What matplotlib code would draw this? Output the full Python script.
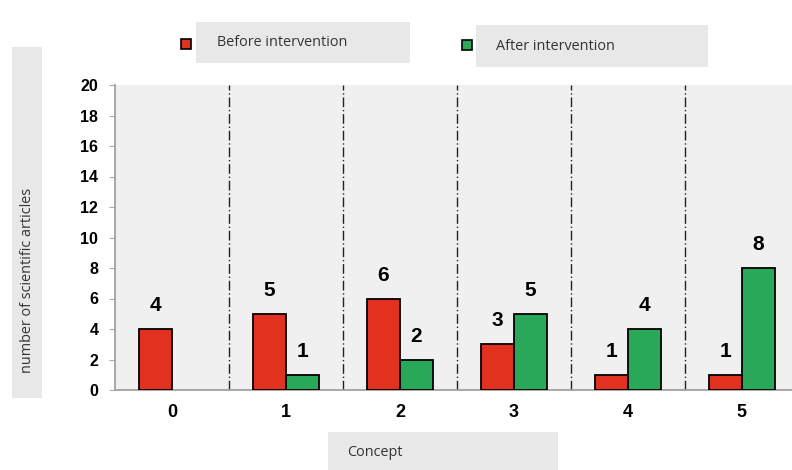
import matplotlib.pyplot as plt
from matplotlib.patches import Rectangle
import numpy as np

# ---------- DATA ----------
concepts = ["0", "1", "2", "3", "4", "5"]
before_counts = [4, 5, 6, 3, 1, 1]
after_counts = [0, 1, 2, 5, 4, 8]
y_ticks = list(range(0, 21, 2))

RED = "#e2321f"
GREEN = "#2aa85a"
PANEL = "#f0f0f0"
BOX = "#e8e8e8"
LABEL_FONT = ["Open Sans", "DejaVu Sans"]
NUM_FONT = ["Liberation Sans", "DejaVu Sans"]

fig = plt.figure(figsize=(7.92, 4.70), dpi=100)
W, H = 792, 470


def px_axes(x0, y0, x1, y1):
    # pixel box (top-left origin) -> figure fraction rect
    return [x0 / W, 1 - y1 / H, (x1 - x0) / W, (y1 - y0) / H]


ax = fig.add_axes(px_axes(115, 85, 792, 390))
ax.set_facecolor(PANEL)

x = np.arange(len(concepts))
bw = 0.29
ax.bar(x - bw / 2, before_counts, bw, color=RED, edgecolor="black", linewidth=1.3, zorder=3)
green_idx = [i for i, v in enumerate(after_counts) if v > 0]
ax.bar(x[green_idx] + bw / 2, [after_counts[i] for i in green_idx], bw,
       color=GREEN, edgecolor="black", linewidth=1.3, zorder=3)

# value labels
for i, v in enumerate(before_counts):
    ax.annotate(str(v), (x[i] - bw / 2, v), xytext=(0, 10), textcoords="offset points",
                ha="center", va="bottom", fontsize=15, fontweight="bold", family=NUM_FONT)
for i in green_idx:
    v = after_counts[i]
    ax.annotate(str(v), (x[i] + bw / 2, v), xytext=(0, 10), textcoords="offset points",
                ha="center", va="bottom", fontsize=15, fontweight="bold", family=NUM_FONT)

# dash-dot separators between concepts
for xv in x[:-1] + 0.5:
    ax.axvline(xv, color="#222222", linestyle=(0, (7, 2, 1, 2)), linewidth=1.0, zorder=2)

ax.set_xlim(-0.5, 5.44)
ax.set_ylim(0, 20)
ax.set_yticks(y_ticks)
ax.set_xticks(x)
ax.set_xticklabels(concepts)
for lab in ax.get_yticklabels():
    lab.set_fontweight("bold")
    lab.set_family(NUM_FONT)
    lab.set_fontsize(11.5)
for lab in ax.get_xticklabels():
    lab.set_fontweight("bold")
    lab.set_family(NUM_FONT)
    lab.set_fontsize(13)
ax.tick_params(axis="y", length=4, color="#aaaaaa", pad=8)
ax.tick_params(axis="x", length=0, pad=10)
for s in ["top", "right"]:
    ax.spines[s].set_visible(False)
ax.spines["left"].set_color("#a09a9a")
ax.spines["bottom"].set_color("#a09a9a")
ax.spines["left"].set_linewidth(1.2)
ax.spines["bottom"].set_linewidth(1.2)

# gray label boxes
def label_box(x0, y0, x1, y1):
    r = Rectangle((x0 / W, 1 - y1 / H), (x1 - x0) / W, (y1 - y0) / H,
                  transform=fig.transFigure, facecolor=BOX, edgecolor="none", zorder=0)
    fig.add_artist(r)

label_box(12, 47, 42, 398)
fig.text(28 / W, 1 - 280 / H, "number of scientific articles", rotation=90,
         ha="center", va="center", fontsize=10.4, family=LABEL_FONT, color="#333333")

label_box(328, 432, 558, 470)
fig.text(347 / W, 1 - 452 / H, "Concept", ha="left", va="center",
         fontsize=10.4, family=LABEL_FONT, color="#333333")

# legend
label_box(196, 22, 410, 63)
label_box(476, 25, 708, 67)
for cx, cy, col in [(186, 44, RED), (467, 45, GREEN)]:
    sq = Rectangle(((cx - 5) / W, 1 - (cy + 5) / H), 10 / W, 10 / H,
                   transform=fig.transFigure, facecolor=col, edgecolor="black",
                   linewidth=1.2, zorder=2)
    fig.add_artist(sq)
fig.text(217 / W, 1 - 43 / H, "Before intervention", ha="left", va="center",
         fontsize=10.4, family=LABEL_FONT, color="#333333")
fig.text(496 / W, 1 - 46 / H, "After intervention", ha="left", va="center",
         fontsize=10.4, family=LABEL_FONT, color="#333333")

fig.savefig("out.png", dpi=100)
